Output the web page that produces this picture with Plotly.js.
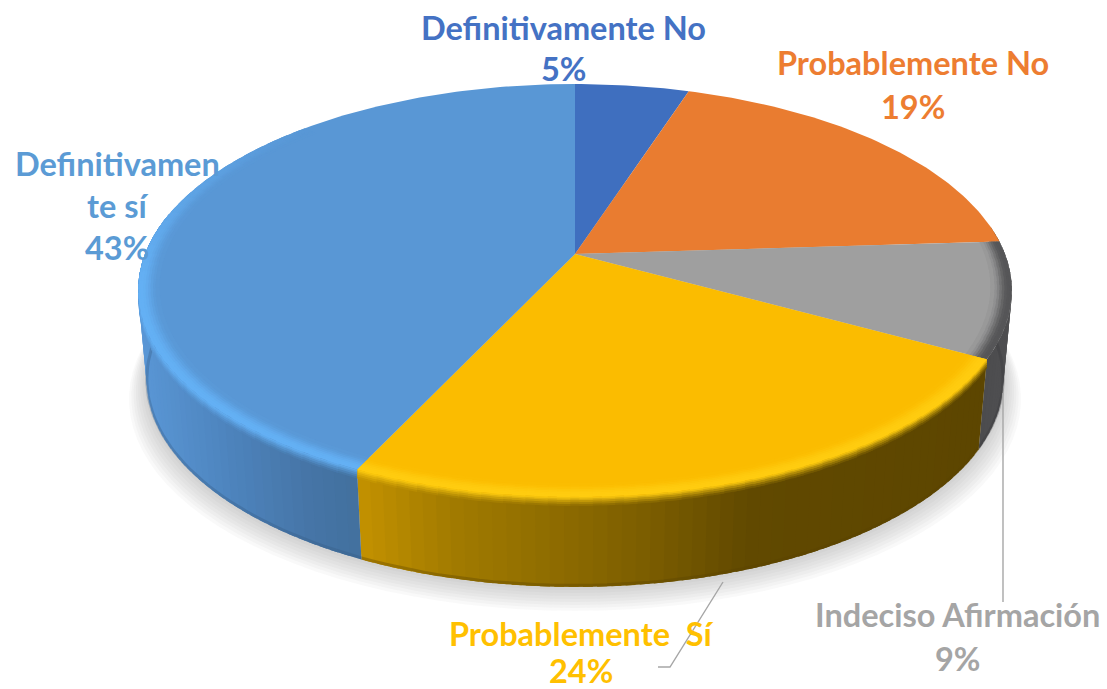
<!DOCTYPE html>
<html><head><meta charset="utf-8">
<script src="https://cdn.plot.ly/plotly-3.0.1.min.js"></script>
<style>html,body{margin:0;padding:0;background:#fff}#c{width:1107px;height:689px}</style>
</head><body><div id="c"></div>
<script>
// ---- data ----
const categories = ["Definitivamente No","Probablemente No","Indeciso Afirmación","Probablemente Sí","Definitivamente sí"];
const values = [5,19,9,24,43];
const labelLines = [["Definitivamente No"],["Probablemente No"],["Indeciso Afirmación"],["Probablemente  Sí"],["Definitivamen","te sí"]];
// ---- styles ----
const topColors = ["#3f6fbf","#e97c30","#9f9f9f","#fbbc00","#5997d5"];
const labelColors = ["#4472c4","#ed7d31","#a5a5a5","#ffc000","#5b9bd5"];
const bevelColors = ["#3f6fbf","#e97c30","#565658","#ffcc10","#64b0f4"];
const wallStops = [
  [[0,"#2f5597"]],
  [[0,"#7f4a1c"]],
  [[970,"#4a4a4c"],[1020,"#505052"]],
  [[355,"#c49200"],[450,"#a27b00"],[560,"#8d6b00"],[650,"#7b5d00"],[750,"#614900"],[980,"#5d4600"]],
  [[135,"#5a97d6"],[230,"#4d83bc"],[300,"#4676a8"],[360,"#42709e"]]
];
// ---- projection of the disc ----
const CX=575, CY=254, A=430, B=200, K=0.1768, DEPTH=90, SX=0.98;
function proj(deg,r,dy,sx){
  const a=deg*Math.PI/180, X=r*Math.sin(a), Y=-r*Math.cos(a), w=1-K*Y;
  return [CX+(sx||1)*A*X/w, CY+(dy||0)+B*Y/w];
}
const hex=c=>[1,3,5].map(i=>parseInt(c.slice(i,i+2),16));
function mix(c1,c2,f){const a=hex(c1),b=hex(c2);return '#'+a.map((v,i)=>Math.round(v+(b[i]-v)*f).toString(16).padStart(2,'0')).join('');}
function ramp(stops,x){
  if(x<=stops[0][0])return stops[0][1];
  for(let i=1;i<stops.length;i++) if(x<=stops[i][0]){
    const f=(x-stops[i-1][0])/(stops[i][0]-stops[i-1][0]);
    return mix(stops[i-1][1],stops[i][1],f);
  }
  return stops[stops.length-1][1];
}
const traces=[];
function poly(pts,color){
  traces.push({type:'scatter',mode:'lines',x:pts.map(p=>p[0]),y:pts.map(p=>p[1]),fill:'toself',fillcolor:color,
    line:{color:'rgba(0,0,0,0)',width:0},hoverinfo:'skip',showlegend:false});
}
function path(pts,color,w,op){
  traces.push({type:'scatter',mode:'lines',x:pts.map(p=>p[0]),y:pts.map(p=>p[1]),line:{color:color,width:w,shape:'linear'},
    opacity:op==null?1:op,hoverinfo:'skip',showlegend:false});
}
// slice ranges
const total=values.reduce((a,b)=>a+b,0);
let acc=0;
const ranges=values.map(v=>{const s=acc;acc+=v;return [s/total*360,acc/total*360];});

// soft shadow below the disc
for(let i=1;i<=8;i++){
  const pts=[];
  for(let t=0;t<360;t+=3) pts.push(proj(t,1+i*0.003,DEPTH+i*2.1,SX+i*0.002));
  poly(pts,'rgba(120,120,125,0.045)');
}
// side wall: strips painted in order, each overlapping the next one
const WALL0=82, WALL1=282;
ranges.forEach((rg,si)=>{
  const a=Math.max(rg[0],WALL0), b=Math.min(rg[1],WALL1);
  if(b<=a)return;
  const n=Math.ceil((b-a)/1.6), step=(b-a)/n;
  for(let i=0;i<n;i++){
    const t0=a+step*i, t1=Math.min(a+step*(i+1.7),b);
    const q=[proj(t0,1,0),proj(t1,1,0),proj(t1,1,DEPTH,SX),proj(t0,1,DEPTH,SX)];
    poly(q,ramp(wallStops[si],proj(t0+step/2,1,0)[0]));
  }
  const low=[];
  for(let i=0;i<=n;i++) low.push(proj(a+step*i,1,DEPTH-1.5,SX));
  path(low,mix(ramp(wallStops[si],(low[0][0]+low[n][0])/2),'#000000',0.25),3,0.35);
});
// soft transition from the rim down into the wall
ranges.forEach((rg,si)=>{
  if(si<3)return;
  const c0=Math.max(rg[0],WALL0), c1=Math.min(rg[1],WALL1);
  const m=Math.ceil((c1-c0)/2.5), st=(c1-c0)/m;
  [[9,0.12],[7,0.3],[5,0.5],[3,0.72],[1.5,0.9]].forEach(L=>{
    for(let i=0;i<m;i++){
      const t0=c0+st*i,t1=Math.min(c0+st*(i+1.6),c1);
      const w=ramp(wallStops[si],proj(t0,1,0)[0]);
      poly([proj(t0,1,0),proj(t1,1,0),proj(t1,1,L[0]),proj(t0,1,L[0])],mix(w,bevelColors[si],L[1]));
    }
  });
});
// top face
ranges.forEach((rg,si)=>{
  const pts=[[CX,CY]];
  for(let t=rg[0];t<rg[1];t+=1)pts.push(proj(t,1,0));
  pts.push(proj(rg[1],1,0));
  poly(pts,topColors[si]);
});
// bevel along the rim
function strength(si,t){
  if(si===4) return t<262?1:Math.max(0,(315-t)/53);
  if(si===3) return 1;
  if(si===2) return Math.max(0,Math.min(1,(t-62)/22));
  return 0;
}
const profile=[1,1,0.95,0.8,0.6,0.38,0.2,0.08];
const BAND=0.0055;
ranges.forEach((rg,si)=>{
  if(si<2)return;
  const a=Math.max(rg[0],60), b=Math.min(rg[1],315);
  const n=Math.ceil((b-a)/2.5), step=(b-a)/n;
  profile.forEach((pf,k)=>{
    const r0=1-k*BAND, r1=1-(k+1.6)*BAND;
    for(let i=0;i<n;i++){
      const t0=a+step*i,t1=Math.min(a+step*(i+1.6),b),tm=t0+step/2;
      poly([proj(t0,r0),proj(t1,r0),proj(t1,r1),proj(t0,r1)],mix(topColors[si],bevelColors[si],strength(si,tm)*pf));
    }
  });
});
// leader lines
const leaderGray={x:[1003,1003],y:[393,602]};
const leaderGold={x:[723,670,658],y:[582,667,667]};
path(leaderGray.x.map((v,i)=>[v,leaderGray.y[i]]),'#a6a6a6',1.4);
path(leaderGold.x.map((v,i)=>[v,leaderGold.y[i]]),'#a6a6a6',1.4);

// labels: centre x, top-line centre y, line step
const labelPos=[[563,27,41],[913,62,44],[957,614,44],[581,633,37],[117,163,42]];
const annotations=[];
labelPos.forEach((lp,si)=>{
  const lines=labelLines[si].concat([Math.round(values[si]/total*100)+'%']);
  lines.forEach((txt,j)=>annotations.push({xref:'x',yref:'y',x:lp[0],y:lp[1]+j*lp[2],text:txt,showarrow:false,
    xanchor:'center',yanchor:'middle',font:{family:'Lato, "Liberation Sans", sans-serif',size:32.5,color:labelColors[si],weight:700}}));
});
Plotly.newPlot('c',traces,{
  width:1107,height:689,margin:{l:0,r:0,t:0,b:0},paper_bgcolor:'#fff',plot_bgcolor:'#fff',showlegend:false,
  xaxis:{range:[0,1107],visible:false,fixedrange:true},
  yaxis:{range:[689,0],visible:false,fixedrange:true},
  annotations:annotations
},{displayModeBar:false,staticPlot:true});
</script></body></html>
